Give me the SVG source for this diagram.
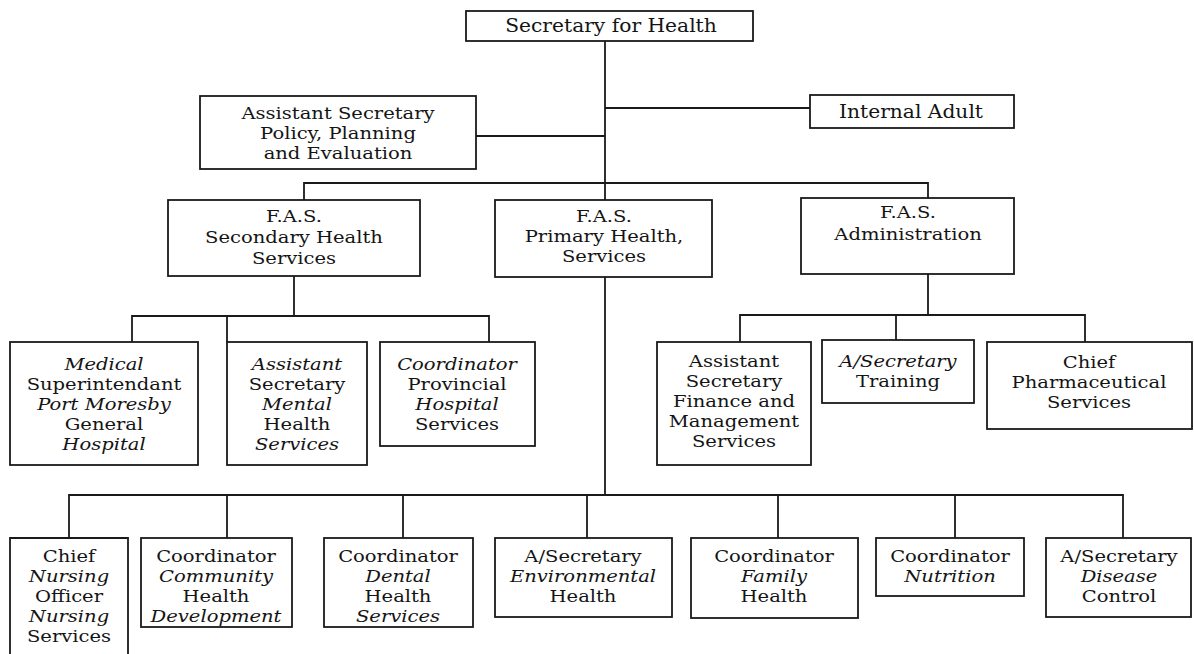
<svg xmlns="http://www.w3.org/2000/svg" width="1194" height="654" viewBox="0 0 1194 654">
<style>
.bg{fill:#ffffff}
.box{fill:none;stroke:#1a1a1a;stroke-width:1.8}
.ln{fill:none;stroke:#1a1a1a;stroke-width:1.8}
text{font-family:"DejaVu Serif","Liberation Serif",serif;font-size:17px;fill:#141414;text-anchor:middle}
.i{font-style:italic}
.t{font-size:17.6px}
</style>
<rect class="bg" x="0" y="0" width="1194" height="654"/>
<g id="connectors">
<path class="ln" d="M605 41V200M605 277V495"/>
<path class="ln" d="M605 108H810"/>
<path class="ln" d="M476 136H605"/>
<path class="ln" d="M304 200V183H928V198"/>
<path class="ln" d="M294 276V316M132 342V316H489V342M227 316V342"/>
<path class="ln" d="M928 274V315M740 342V315H1085V342M896 315V340"/>
<path class="ln" d="M69 538V495H1123V538M227 495V538M403 495V538M587 495V538M778 495V538M955 495V538"/>
</g>
<g id="n-secretary">
<rect class="box" x="466" y="11" width="287" height="30"/>
<g transform="translate(611 0) scale(1.15 1)"><text class="t" x="0" y="32">Secretary for Health</text></g>
</g>
<g id="n-policy">
<rect class="box" x="200" y="96" width="276" height="73"/>
<g transform="translate(338 0) scale(1.15 1)">
<text x="0" y="119">Assistant Secretary</text>
<text x="0" y="139">Policy, Planning</text>
<text x="0" y="159">and Evaluation</text>
</g>
</g>
<g id="n-audit">
<rect class="box" x="810" y="95" width="204" height="33"/>
<g transform="translate(911 0) scale(1.15 1)"><text class="t" x="0" y="118">Internal Adult</text></g>
</g>
<g id="n-secondary">
<rect class="box" x="168" y="200" width="252" height="76"/>
<g transform="translate(294 0) scale(1.15 1)">
<text x="0" y="222">F.A.S.</text>
<text x="0" y="243">Secondary Health</text>
<text x="0" y="264">Services</text>
</g>
</g>
<g id="n-primary">
<rect class="box" x="495" y="200" width="217" height="77"/>
<g transform="translate(604 0) scale(1.15 1)">
<text x="0" y="222">F.A.S.</text>
<text x="0" y="242">Primary Health,</text>
<text x="0" y="262">Services</text>
</g>
</g>
<g id="n-admin">
<rect class="box" x="801" y="198" width="213" height="76"/>
<g transform="translate(908 0) scale(1.15 1)">
<text x="0" y="218">F.A.S.</text>
<text x="0" y="240">Administration</text>
</g>
</g>
<g id="n-medical">
<rect class="box" x="10" y="342" width="188" height="123"/>
<g transform="translate(104 0) scale(1.15 1)">
<text class="i" x="0" y="370">Medical</text>
<text x="0" y="390">Superintendant</text>
<text class="i" x="0" y="410">Port Moresby</text>
<text x="0" y="430">General</text>
<text class="i" x="0" y="450">Hospital</text>
</g>
</g>
<g id="n-mental">
<rect class="box" x="227" y="342" width="140" height="123"/>
<g transform="translate(297 0) scale(1.15 1)">
<text class="i" x="0" y="370">Assistant</text>
<text x="0" y="390">Secretary</text>
<text class="i" x="0" y="410">Mental</text>
<text x="0" y="430">Health</text>
<text class="i" x="0" y="450">Services</text>
</g>
</g>
<g id="n-provincial">
<rect class="box" x="380" y="342" width="155" height="104"/>
<g transform="translate(457 0) scale(1.15 1)">
<text class="i" x="0" y="370">Coordinator</text>
<text x="0" y="390">Provincial</text>
<text class="i" x="0" y="410">Hospital</text>
<text x="0" y="430">Services</text>
</g>
</g>
<g id="n-finance">
<rect class="box" x="657" y="342" width="154" height="123"/>
<g transform="translate(734 0) scale(1.15 1)">
<text x="0" y="367">Assistant</text>
<text x="0" y="387">Secretary</text>
<text x="0" y="407">Finance and</text>
<text x="0" y="427">Management</text>
<text x="0" y="447">Services</text>
</g>
</g>
<g id="n-training">
<rect class="box" x="822" y="340" width="152" height="63"/>
<g transform="translate(898 0) scale(1.15 1)">
<text class="i" x="0" y="367">A/Secretary</text>
<text x="0" y="387">Training</text>
</g>
</g>
<g id="n-pharma">
<rect class="box" x="987" y="342" width="205" height="87"/>
<g transform="translate(1089 0) scale(1.15 1)">
<text x="0" y="368">Chief</text>
<text x="0" y="388">Pharmaceutical</text>
<text x="0" y="408">Services</text>
</g>
</g>
<g id="n-nursing">
<path class="box" d="M10 660V538H128V660"/>
<g transform="translate(69 0) scale(1.15 1)">
<text x="0" y="562">Chief</text>
<text class="i" x="0" y="582">Nursing</text>
<text x="0" y="602">Officer</text>
<text class="i" x="0" y="622">Nursing</text>
<text x="0" y="642">Services</text>
</g>
</g>
<g id="n-community">
<rect class="box" x="141" y="538" width="151" height="89"/>
<g transform="translate(216 0) scale(1.15 1)">
<text x="0" y="562">Coordinator</text>
<text class="i" x="0" y="582">Community</text>
<text x="0" y="602">Health</text>
<text class="i" x="0" y="622">Development</text>
</g>
</g>
<g id="n-dental">
<rect class="box" x="324" y="538" width="149" height="89"/>
<g transform="translate(398 0) scale(1.15 1)">
<text x="0" y="562">Coordinator</text>
<text class="i" x="0" y="582">Dental</text>
<text x="0" y="602">Health</text>
<text class="i" x="0" y="622">Services</text>
</g>
</g>
<g id="n-environmental">
<rect class="box" x="495" y="538" width="177" height="79"/>
<g transform="translate(583 0) scale(1.15 1)">
<text x="0" y="562">A/Secretary</text>
<text class="i" x="0" y="582">Environmental</text>
<text x="0" y="602">Health</text>
</g>
</g>
<g id="n-family">
<rect class="box" x="691" y="538" width="167" height="80"/>
<g transform="translate(774 0) scale(1.15 1)">
<text x="0" y="562">Coordinator</text>
<text class="i" x="0" y="582">Family</text>
<text x="0" y="602">Health</text>
</g>
</g>
<g id="n-nutrition">
<rect class="box" x="876" y="538" width="148" height="58"/>
<g transform="translate(950 0) scale(1.15 1)">
<text x="0" y="562">Coordinator</text>
<text class="i" x="0" y="582">Nutrition</text>
</g>
</g>
<g id="n-disease">
<rect class="box" x="1046" y="538" width="145" height="79"/>
<g transform="translate(1119 0) scale(1.15 1)">
<text x="0" y="562">A/Secretary</text>
<text class="i" x="0" y="582">Disease</text>
<text x="0" y="602">Control</text>
</g>
</g>
</svg>
